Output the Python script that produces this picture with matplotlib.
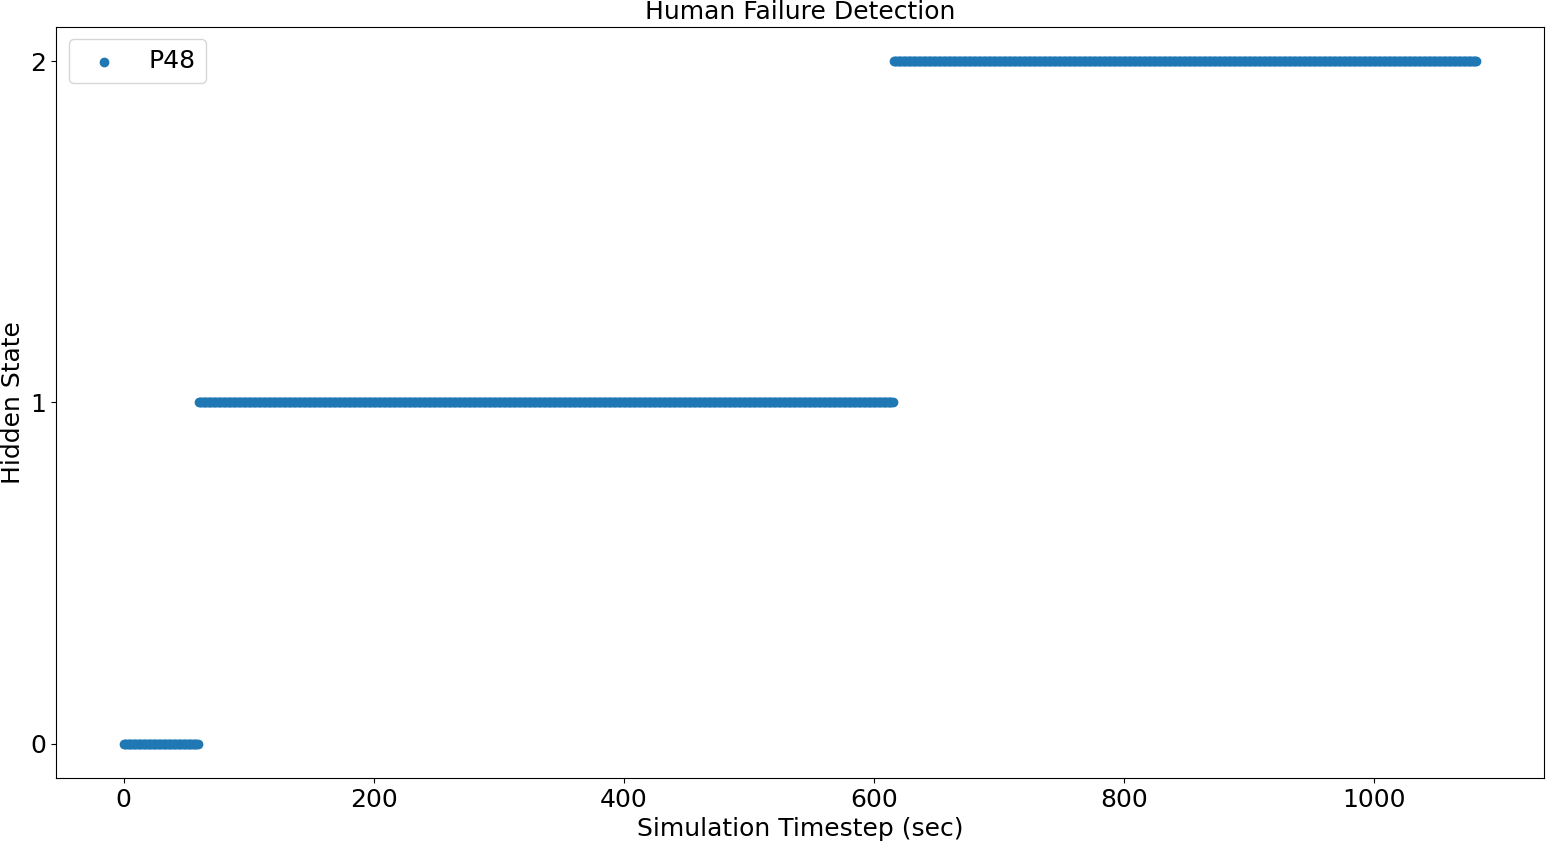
import numpy as np
import matplotlib
matplotlib.use("Agg")
import matplotlib.pyplot as plt

# Segments of the hidden state sequence (timestep in seconds, 1 s apart)
seg_start = [0, 60, 616]
seg_end = [59, 615, 1082]
seg_state = [0, 1, 2]
series_label = "P48"

t = np.concatenate([np.arange(s, e + 1) for s, e in zip(seg_start, seg_end)])
state = np.concatenate([np.full(e - s + 1, v) for s, e, v in zip(seg_start, seg_end, seg_state)])

plt.rcParams["font.size"] = 18
fig = plt.figure(figsize=(15.46, 8.41), dpi=100)
ax = fig.add_subplot(111)
fig.subplots_adjust(left=0.0363, right=0.9987, top=0.968, bottom=0.0750)

ax.scatter(t, state, label=series_label)
ax.set_yticks([0, 1, 2])
ax.set_title("Human Failure Detection", fontsize=18)
ax.set_xlabel("Simulation Timestep (sec)")
ax.set_ylabel("Hidden State")
ax.legend(loc="upper left")

fig.savefig("out.png", dpi=100)
